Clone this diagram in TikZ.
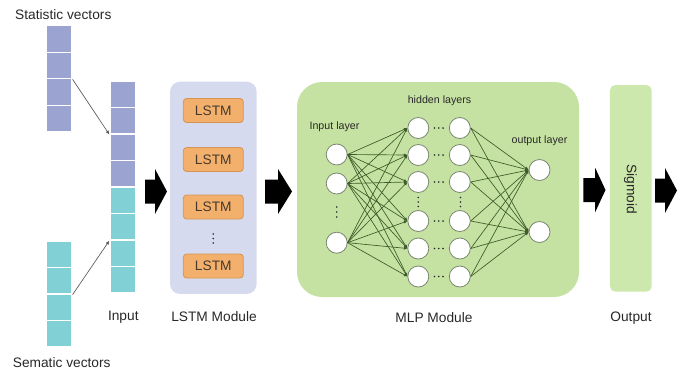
\documentclass[tikz,border=0pt]{standalone}
\usepackage{fontspec}
\setmainfont{Liberation Sans}
\usetikzlibrary{arrows.meta}

\definecolor{statcol}{RGB}{155,164,208}
\definecolor{semcol}{RGB}{128,208,214}
\definecolor{lstmbg}{RGB}{214,218,238}
\definecolor{lstmfill}{RGB}{243,176,108}
\definecolor{lstmedge}{RGB}{212,148,84}
\definecolor{mlpbg}{RGB}{198,226,162}
\definecolor{sigbg}{RGB}{205,232,172}
\definecolor{netline}{RGB}{62,92,42}
\definecolor{neuronedge}{RGB}{120,135,110}
\definecolor{txt}{RGB}{40,40,40}

% block arrow: #1 left x, #2 centre y, #3 shaft length, #4 head length
\newcommand{\bigarrow}[4]{%
  \fill[black] (#1,#2-12) -- ++(#3,0) -- ++(0,-10.5) -- ++(#4,22.5)
    -- ++(-#4,22.5) -- ++(0,-10.5) -- ++(-#3,0) -- cycle;}

\begin{document}
\begin{tikzpicture}[x=0.75pt,y=-0.75pt,
  lab/.style={font=\fontsize{10.3}{12}\selectfont, text=txt, inner sep=0pt},
  smalllab/.style={font=\fontsize{8}{10}\selectfont, text=txt, inner sep=0pt},
  cell/.style={draw=white, line width=0.9pt, minimum width=19.5pt,
    minimum height=19.875pt, inner sep=0pt},
  lstmbox/.style={draw=lstmedge, fill=lstmfill, line width=0.6pt,
    rounded corners=2.5pt, minimum width=45pt, minimum height=18pt,
    inner sep=0pt, font=\fontsize{10.3}{12}\selectfont, text=txt!80!brown},
  neuron/.style={circle, draw=neuronedge, fill=white, line width=0.6pt,
    minimum size=15.75pt, inner sep=0pt},
  feed/.style={draw=gray!70!black, line width=0.5pt, -{Latex[length=3pt,width=2.6pt]}},
  link/.style={draw=netline, line width=0.5pt, -{Latex[length=2.6pt,width=2.4pt]}},
  dot/.style={fill=txt}
]
\useasboundingbox (0,0) rectangle (681,369);

% ---- input vectors ----
\foreach \i in {1,...,4}
  \node[cell, fill=statcol] (s\i) at (59, 25.7+26.5*\i-13.25) {};
\foreach \i in {1,...,4}
  \node[cell, fill=semcol] (m\i) at (59, 241+26.5*\i-13.25) {};
\foreach \i in {1,...,4}
  \node[cell, fill=statcol] (i\i) at (123, 81+26.5*\i-13.25) {};
\foreach \i in {5,...,8}
  \node[cell, fill=semcol] (i\i) at (123, 81+26.5*\i-13.25) {};

\draw[feed] (s2.south east) -- (i2.south west);
\draw[feed] (m2.south east) -- (i6.south west);

\node[lab] (statlab) at (63.3,14.3) {Statistic vectors};
\node[lab] (semlab) at (61.7,362.5) {Sematic vectors};
\node[lab] (inlab) at (123.3,316.7) {Input};

% ---- LSTM module ----
\node[fill=lstmbg, rounded corners=7.5pt, minimum width=65pt,
  minimum height=159.2pt, inner sep=0pt] (lstm) at (213.35,187.85) {};
\node[lstmbox] (l1) at (213.3,110.5) {LSTM};
\node[lstmbox] (l2) at (213.3,159.5) {LSTM};
\node[lstmbox] (l3) at (213.3,207) {LSTM};
\node[lstmbox] (l4) at (213.3,266) {LSTM};
\foreach \y in {234,238.5,243} \fill[dot] (213.3,\y) circle (0.9);
\node[lab] (lstmlab) at (214,317) {LSTM Module};

% ---- MLP module ----
\node[fill=mlpbg, rounded corners=18.75pt, minimum width=211.5pt,
  minimum height=161.25pt, inner sep=0pt] (mlp) at (438,189.5) {};

\foreach \n/\y in {1/154.5,2/183.5,3/242.7}
  \node[neuron] (in\n) at (336.7,\y) {};
\foreach \n/\y in {1/128,2/155,3/182,4/221,5/248.5,6/276.5} {
  \node[neuron] (h\n) at (418.3,\y) {};
  \node[neuron] (g\n) at (459.8,\y) {};
  \foreach \dx in {434.5,438.8,443.1} \fill[dot] (\dx,\y) circle (0.9);
}
\node[neuron] (o1) at (539.5,170) {};
\node[neuron] (o2) at (539.5,232) {};

\foreach \y in {207,212,217} \fill[dot] (336.7,\y) circle (0.9);
\foreach \y in {197.5,202,206.5} {
  \fill[dot] (418.3,\y) circle (0.9);
  \fill[dot] (460.5,\y) circle (0.9);
}

\foreach \a in {1,2,3}
  \foreach \b in {1,...,6}
    \draw[link] (in\a.east) -- (h\b.west);
\foreach \a in {1,...,6}
  \foreach \b in {1,2}
    \draw[link] (g\a.east) -- (o\b.west);

\node[smalllab] (inlayer) at (334.5,126.7) {Input layer};
\node[smalllab] (hidlayer) at (439.5,101) {hidden layers};
\node[smalllab] (outlayer) at (539.5,141) {output layer};
\node[lab] (mlplab) at (434,317.5) {MLP Module};

% ---- output ----
\node[fill=sigbg, rounded corners=4pt, minimum width=31.3pt,
  minimum height=155pt, inner sep=0pt] (sig) at (630.85,188.35) {};
\node[lab, rotate=-90] (siglab) at (630.5,189) {Sigmoid};
\node[lab] (outlab) at (631,318) {Output};

% ---- flow arrows ----
\bigarrow{145}{191.5}{10}{12}
\bigarrow{265}{191.5}{13}{14}
\bigarrow{583.3}{190}{11.7}{10.5}
\bigarrow{655}{190.5}{10}{12}
\end{tikzpicture}
\end{document}
